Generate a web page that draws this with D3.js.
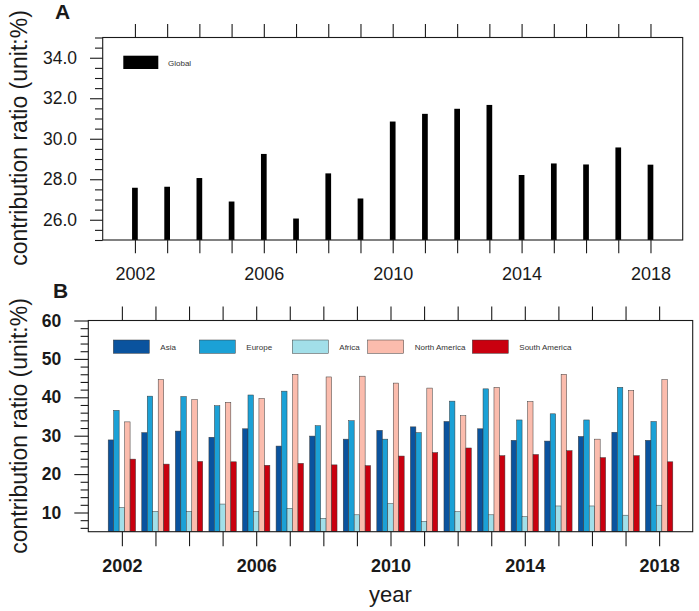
<!DOCTYPE html>
<html>
<head>
<meta charset="utf-8">
<script src="https://cdn.jsdelivr.net/npm/d3@7"></script>
<style>
  html, body { margin: 0; padding: 0; background: #fff; }
  svg { display: block; font-family: "Liberation Sans", Arial, Helvetica, sans-serif; }
</style>
</head>
<body>
<svg id="chart" width="699" height="611"></svg>
<script>
// ---------- data ----------
const years = [2002,2003,2004,2005,2006,2007,2008,2009,2010,2011,2012,2013,2014,2015,2016,2017,2018];
const yearLabels = [2002, 2006, 2010, 2014, 2018];

const globalRatio = [27.58,27.63,28.06,26.90,29.25,26.06,28.29,27.05,30.85,31.23,31.48,31.67,28.21,28.78,28.73,29.57,28.72];

const seriesNames = ["Asia", "Europe", "Africa", "North America", "South America"];
const asia         = [28.9,30.8,31.2,29.6,31.8,27.3,29.9,29.1,31.4,32.3,33.7,31.8,28.8,28.6,29.8,30.9,28.8];
const europe       = [36.6,40.3,40.2,37.8,40.6,41.6,32.6,33.9,29.1,30.8,39.0,42.2,34.1,35.7,34.1,42.6,33.7];
const africa       = [11.3,10.3,10.3,12.2,10.3,11.1,8.5,9.4,12.3,7.7,10.2,9.4,8.9,11.7,11.7,9.3,11.9];
const northAmerica = [33.6,44.6,39.4,38.7,39.7,46.0,45.3,45.5,43.7,42.4,35.2,42.6,38.9,46.0,29.1,41.8,44.6];
const southAmerica = [23.9,22.6,23.3,23.2,22.3,22.8,22.4,22.2,24.7,25.6,26.8,24.8,25.1,26.1,24.3,24.8,23.2];
const seriesColors = ["#0a539e", "#1ba1d6", "#a2dfe9", "#fbbcad", "#c9000f"];

const yTicksA = [26, 28, 30, 32, 34];
const yTicksB = [10, 20, 30, 40, 50, 60];

// ---------- drawing ----------
const svg = d3.select("#chart");
const ink = "#1a1a1a";

function styleAxis(g) {
  g.select(".domain").remove();
  g.selectAll(".tick line").attr("stroke", ink).attr("stroke-width", 1.1);
  g.selectAll(".tick text").attr("fill", ink);
}

// ===== Panel A =====
const A = { left: 102.7, right: 682.7, top: 37.5, bottom: 240 };
const xA = d3.scaleLinear().domain([2001, 2019]).range([A.left, A.right]);
const yA = d3.scaleLinear().domain([25, 35]).range([A.bottom, A.top]);
const gA = svg.append("g");

gA.append("g").selectAll("rect").data(years).join("rect")
  .attr("x", (d) => xA(d) - 2.85)
  .attr("width", 5.7)
  .attr("y", (d, i) => yA(globalRatio[i]))
  .attr("height", (d, i) => yA(25) - yA(globalRatio[i]))
  .attr("fill", "#000");

// axes A
gA.append("g").attr("transform", `translate(0,${A.bottom})`)
  .call(d3.axisBottom(xA).tickValues(years).tickSize(13.3).tickPadding(14)
        .tickFormat((d) => yearLabels.includes(d) ? String(d) : ""))
  .call(styleAxis)
  .call((g) => g.selectAll("text").attr("font-size", 18).attr("font-family", "Liberation Sans"));
gA.append("g").attr("transform", `translate(0,${A.top})`)
  .call(d3.axisTop(xA).tickValues(years).tickSize(13.5).tickFormat(""))
  .call(styleAxis);
const minorA = d3.range(25, 35.01, 0.5).filter((v) => Math.abs(v - Math.round(v / 2) * 2) > 1e-6 || v < 26 || v > 34);
gA.append("g").attr("transform", `translate(${A.left},0)`)
  .call(d3.axisLeft(yA).tickValues(minorA).tickSize(7.7).tickFormat(""))
  .call(styleAxis);
gA.append("g").attr("transform", `translate(${A.left},0)`)
  .call(d3.axisLeft(yA).tickValues(yTicksA).tickSize(12.7).tickPadding(13).tickFormat(d3.format(".1f")))
  .call(styleAxis)
  .call((g) => g.selectAll("text").attr("font-size", 17.5).attr("font-family", "Liberation Sans"));

gA.append("rect")
  .attr("x", A.left).attr("y", A.top)
  .attr("width", A.right - A.left).attr("height", A.bottom - A.top)
  .attr("fill", "none").attr("stroke", ink).attr("stroke-width", 1.1);

// legend A
gA.append("rect").attr("x", 123.3).attr("y", 55.7).attr("width", 35).attr("height", 13.3).attr("fill", "#000");
gA.append("text").attr("x", 168).attr("y", 65.5).attr("font-size", 8).attr("fill", "#333").text("Global");

gA.append("text").attr("x", 55).attr("y", 19).attr("font-size", 21).attr("font-weight", "bold").attr("fill", ink).text("A");
gA.append("text").attr("transform", "translate(27,138) rotate(-90)")
  .attr("text-anchor", "middle").attr("font-size", 23).attr("fill", ink)
  .text("contribution ratio (unit:%)");

// ===== Panel B =====
const B = { left: 88.3, right: 692.7, top: 320.5, bottom: 531.7 };
const xB = d3.scaleLinear().domain([2001, 2019]).range([B.left, B.right]);
const yB = d3.scaleLinear().domain([5, 60]).range([B.bottom, B.top]);
const groupW = (xB(2002) - xB(2001)) * 0.815;
const xInner = d3.scaleBand().domain(seriesNames).range([-groupW / 2, groupW / 2]).padding(0);
const seriesValues = [asia, europe, africa, northAmerica, southAmerica];
const gB = svg.append("g");

seriesNames.forEach((name, s) => {
  gB.append("g").selectAll("rect").data(years).join("rect")
    .attr("x", (d) => xB(d) + xInner(name))
    .attr("width", xInner.bandwidth())
    .attr("y", (d, i) => yB(seriesValues[s][i]))
    .attr("height", (d, i) => yB(5) - yB(seriesValues[s][i]))
    .attr("fill", seriesColors[s])
    .attr("stroke", "#3a3a3a").attr("stroke-width", 0.5);
});

gB.append("g").attr("transform", `translate(0,${B.bottom})`)
  .call(d3.axisBottom(xB).tickValues(years).tickSize(14.5).tickPadding(13.5)
        .tickFormat((d) => yearLabels.includes(d) ? String(d) : ""))
  .call(styleAxis)
  .call((g) => g.selectAll("text").attr("font-size", 18).attr("font-weight", "bold").attr("font-family", "Liberation Sans"));
gB.append("g").attr("transform", `translate(0,${B.top})`)
  .call(d3.axisTop(xB).tickValues(years).tickSize(14).tickFormat(""))
  .call(styleAxis);
const minorB = d3.range(6, 60.01, 2).filter((v) => v % 10 !== 0);
gB.append("g").attr("transform", `translate(${B.left},0)`)
  .call(d3.axisLeft(yB).tickValues(minorB).tickSize(7.7).tickFormat(""))
  .call(styleAxis);
gB.append("g").attr("transform", `translate(${B.left},0)`)
  .call(d3.axisLeft(yB).tickValues(yTicksB).tickSize(14).tickPadding(13).tickFormat(d3.format("d")))
  .call(styleAxis)
  .call((g) => g.selectAll("text").attr("font-size", 17.5).attr("font-weight", "bold").attr("font-family", "Liberation Sans"));

gB.append("rect")
  .attr("x", B.left).attr("y", B.top)
  .attr("width", B.right - B.left).attr("height", B.bottom - B.top)
  .attr("fill", "none").attr("stroke", ink).attr("stroke-width", 1.1);

// legend B
const legendX = [113.3, 199.3, 292.3, 367.7, 472.3];
seriesNames.forEach((name, s) => {
  gB.append("rect").attr("x", legendX[s]).attr("y", 340).attr("width", 36).attr("height", 13.3)
    .attr("fill", seriesColors[s]).attr("stroke", "#3a3a3a").attr("stroke-width", 0.5);
  gB.append("text").attr("x", legendX[s] + 47).attr("y", 349.5)
    .attr("font-size", 8).attr("fill", "#333").text(name);
});

gB.append("text").attr("x", 53).attr("y", 297.5).attr("font-size", 21).attr("font-weight", "bold").attr("fill", ink).text("B");
gB.append("text").attr("transform", "translate(27,426) rotate(-90)")
  .attr("text-anchor", "middle").attr("font-size", 23).attr("fill", ink)
  .text("contribution ratio (unit:%)");
gB.append("text").attr("x", (B.left + B.right) / 2).attr("y", 601.5)
  .attr("text-anchor", "middle").attr("font-size", 22).attr("fill", ink).text("year");
</script>
</body>
</html>
